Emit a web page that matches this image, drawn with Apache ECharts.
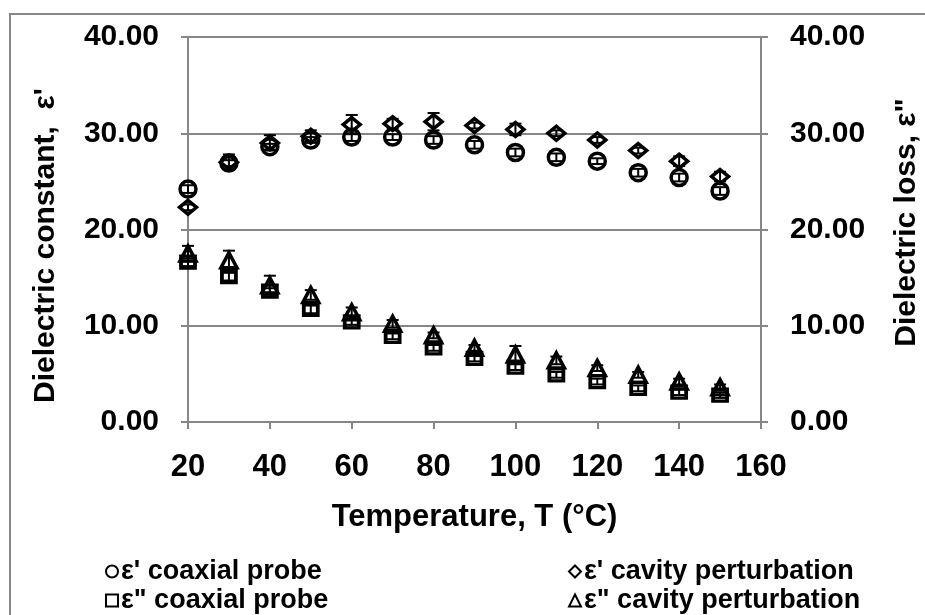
<!DOCTYPE html>
<html>
<head>
<meta charset="utf-8">
<script src="https://cdn.jsdelivr.net/npm/echarts@6/dist/echarts.min.js"></script>
<style>
  html, body { margin: 0; padding: 0; background: #fff; }
  #main { width: 925px; height: 615px; }
</style>
</head>
<body>
<div id="main"></div>
<script>
// temperatures (°C)
var temps = [20, 30, 40, 50, 60, 70, 80, 90, 100, 110, 120, 130, 140, 150];

// dielectric constant e'
var epsCoax = [24.2, 26.9, 28.6, 29.3, 29.6, 29.6, 29.3, 28.8, 28.0, 27.5, 27.1, 25.9, 25.4, 24.0];
var epsCoaxErr = [0.4, 0.3, 0.3, 0.3, 0.4, 0.3, 0.4, 0.4, 0.4, 0.4, 0.3, 0.4, 0.4, 0.4];
var epsCav = [22.3, 27.0, 29.0, 29.7, 30.9, 31.0, 31.2, 30.8, 30.4, 30.0, 29.3, 28.2, 27.1, 25.5];
var epsCavErr = [0.3, 0.8, 0.8, 0.6, 1.0, 0.5, 0.9, 0.3, 0.6, 0.3, 0.3, 0.3, 0.5, 0.5];

// dielectric loss e''
var lossCoax = [16.6, 15.1, 13.6, 11.7, 10.4, 8.9, 7.7, 6.6, 5.7, 4.9, 4.2, 3.5, 3.1, 2.8];
var lossCoaxErr = [0.4, 0.4, 0.3, 0.4, 0.3, 0.3, 0.3, 0.3, 0.3, 0.3, 0.3, 0.3, 0.3, 0.3];
var lossCav = [17.5, 16.8, 14.2, 13.2, 11.4, 10.2, 9.0, 7.7, 7.0, 6.4, 5.6, 4.9, 4.2, 3.6];
var lossCavErr = [0.8, 1.0, 1.0, 0.5, 0.5, 0.4, 0.3, 0.3, 0.9, 0.4, 0.3, 0.3, 0.3, 0.3];

var names = ["ε' coaxial probe", "ε' cavity perturbation", 'ε" coaxial probe', 'ε" cavity perturbation'];

var FONT = '"Liberation Sans", Arial, sans-serif';
var GRAY = '#868686';

function pts(ys) {
    return temps.map(function (t, i) { return [t, ys[i]]; });
}
function errPts(ys, es) {
    return temps.map(function (t, i) { return [t, ys[i], es[i]]; });
}

function renderErr(params, api) {
    var x = api.value(0), y = api.value(1), e = api.value(2);
    var hi = api.coord([x, y + e]);
    var lo = api.coord([x, y - e]);
    var w = 6;
    var st = { stroke: '#000', lineWidth: 2 };
    return {
        type: 'group',
        children: [
            { type: 'line', shape: { x1: hi[0], y1: hi[1], x2: lo[0], y2: lo[1] }, style: st },
            { type: 'line', shape: { x1: hi[0] - w, y1: hi[1], x2: hi[0] + w, y2: hi[1] }, style: st },
            { type: 'line', shape: { x1: lo[0] - w, y1: lo[1], x2: lo[0] + w, y2: lo[1] }, style: st }
        ]
    };
}

function errSeries(ys, es, axis) {
    return {
        type: 'custom',
        yAxisIndex: axis,
        renderItem: renderErr,
        data: errPts(ys, es),
        silent: true,
        z: 3
    };
}

function markSeries(name, ys, symbol, size, axis) {
    return {
        name: name,
        type: 'scatter',
        yAxisIndex: axis,
        symbol: symbol,
        symbolSize: size,
        data: pts(ys),
        itemStyle: { color: 'rgba(0,0,0,0)', borderColor: '#000', borderWidth: 3.5, opacity: 1 },
        z: 4
    };
}

function legendAt(name, left, top) {
    return {
        data: [name],
        left: left,
        top: top,
        itemWidth: 12,
        itemHeight: 12,
        itemGap: 4,
        selectedMode: false,
        textStyle: { fontFamily: FONT, fontWeight: 'bold', fontSize: 27, color: '#000', padding: [0, 0, 0, -2] }
    };
}

function yAxisCfg(pos, nameText, gap, pad) {
    return {
        type: 'value',
        position: pos,
        min: 0,
        max: 40,
        interval: 10,
        name: nameText,
        nameLocation: 'middle',
        nameGap: gap,
        nameRotate: 90,
        nameTextStyle: { fontFamily: FONT, fontWeight: 'bold', fontSize: 30, color: '#000', padding: pad },
        axisLine: { show: true, lineStyle: { color: GRAY, width: 2 } },
        axisTick: { show: true, length: 7, lineStyle: { color: GRAY, width: 2 } },
        axisLabel: {
            margin: 29,
            fontFamily: FONT, fontWeight: 'bold', fontSize: 30, color: '#000',
            formatter: function (v) { return v.toFixed(2); }
        },
        splitLine: { show: pos === 'left', lineStyle: { color: GRAY, width: 2 } }
    };
}

var myChart = echarts.init(document.getElementById('main'));

var option = {
    backgroundColor: '#fff',
    animation: false,
    graphic: [{
        type: 'rect',
        shape: { x: 10, y: 14, width: 960, height: 660 },
        style: { fill: 'none', stroke: GRAY, lineWidth: 2 },
        silent: true
    }],
    grid: {
        left: 188, right: 164, top: 37, bottom: 193,
        outerBoundsMode: 'none',
        containLabel: false,
        show: true, borderColor: '#000', borderWidth: 1.5, backgroundColor: 'rgba(0,0,0,0)'
    },
    legend: [
        legendAt(names[0], 100, 553),
        legendAt(names[1], 563, 553),
        legendAt(names[2], 100, 582),
        legendAt(names[3], 563, 582)
    ],
    xAxis: {
        type: 'value',
        min: 20,
        max: 160,
        interval: 20,
        name: 'Temperature, T (°C)',
        nameLocation: 'middle',
        nameGap: 80,
        nameTextStyle: { fontFamily: FONT, fontWeight: 'bold', fontSize: 31, color: '#000' },
        axisLine: { show: true, lineStyle: { color: GRAY, width: 2 } },
        axisTick: { show: true, length: 7, lineStyle: { color: GRAY, width: 2 } },
        axisLabel: { margin: 30, fontFamily: FONT, fontWeight: 'bold', fontSize: 31, color: '#000' },
        splitLine: { show: false }
    },
    yAxis: [
        yAxisCfg('left', "Dielectric constant,  ε'", 127, [0, 32, 0, 0]),
        yAxisCfg('right', 'Dielectric loss, ε"', 131, [0, 0, 0, 14])
    ],
    series: [
        errSeries(epsCoax, epsCoaxErr, 0),
        errSeries(epsCav, epsCavErr, 0),
        errSeries(lossCoax, lossCoaxErr, 1),
        errSeries(lossCav, lossCavErr, 1),
        markSeries(names[0], epsCoax, 'circle', 16, 0),
        markSeries(names[1], epsCav, 'diamond', [17, 14], 0),
        markSeries(names[2], lossCoax, 'rect', [14, 12], 1),
        markSeries(names[3], lossCav, 'triangle', [16, 15], 1)
    ]
};

myChart.setOption(option);
</script>
</body>
</html>
